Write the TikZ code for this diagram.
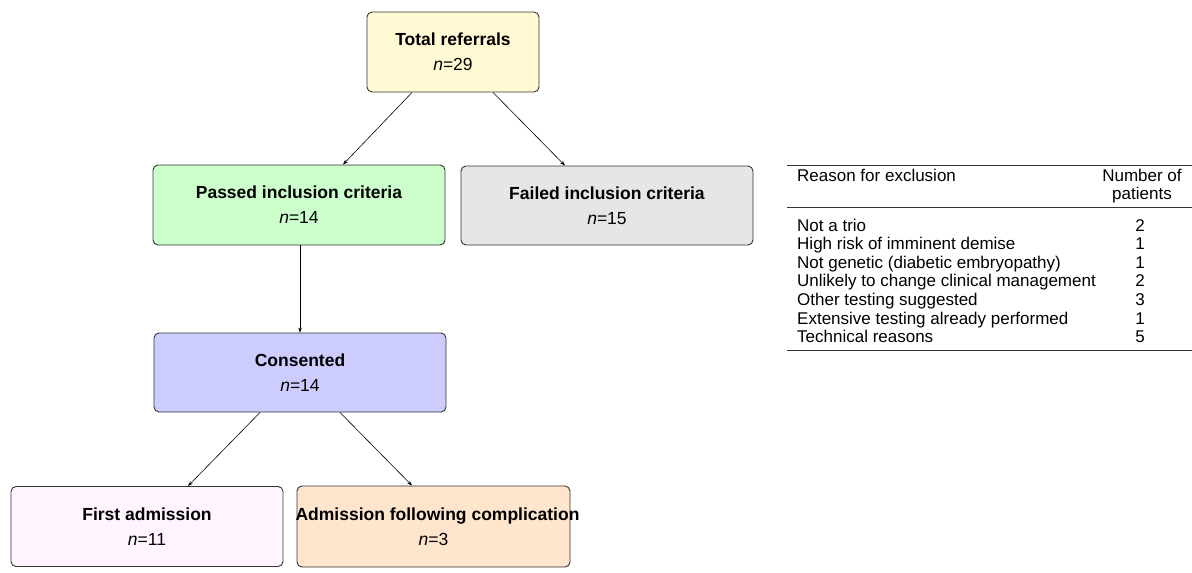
\documentclass[tikz,border=0pt]{standalone}
\usepackage{fontspec}
\setmainfont{Liberation Sans}
\usetikzlibrary{arrows.meta}
\definecolor{cTot}{HTML}{FFFAD4}
\definecolor{cPass}{HTML}{CCFFCC}
\definecolor{cFail}{HTML}{E6E6E6}
\definecolor{cCons}{HTML}{CCCCFF}
\definecolor{cFirst}{HTML}{FFF4FF}
\definecolor{cComp}{HTML}{FFE5CC}
\definecolor{cEdge}{HTML}{333333}
\tikzset{
  flowbox/.style={draw=cEdge, line width=0.9pt, rounded corners=5pt, inner sep=0pt,
    align=center, font=\fontsize{17.5}{25}\selectfont},
  arr/.style={line width=0.6pt, -{Stealth[length=5pt,width=3.5pt]}},
  tabtxt/.style={inner sep=0pt, font=\fontsize{17}{18.6}\selectfont},
  rule/.style={line width=1pt, draw=cEdge}
}
\begin{document}
\begin{tikzpicture}[x=1pt,y=-1pt]
\useasboundingbox (0,0) rectangle (1192,573);
% flow boxes
\node[flowbox, fill=cTot, minimum width=172pt, minimum height=80pt] (tot) at (453,52)
  {\textbf{Total referrals}\\\textit{n}=29};
\node[flowbox, fill=cPass, minimum width=292pt, minimum height=80pt] (pass) at (299,205)
  {\textbf{Passed inclusion criteria}\\\textit{n}=14};
\node[flowbox, fill=cFail, minimum width=292pt, minimum height=79pt] (fail) at (607,205.5)
  {\textbf{Failed inclusion criteria}\\\textit{n}=15};
\node[flowbox, fill=cCons, minimum width=292pt, minimum height=79pt] (cons) at (300,372.5)
  {\textbf{Consented}\\\textit{n}=14};
\node[flowbox, fill=cFirst, minimum width=272pt, minimum height=80pt] (first) at (147,526.5)
  {\textbf{First admission}\\\textit{n}=11};
\node[flowbox, fill=cComp, minimum width=273pt, minimum height=81pt] (comp) at (433.5,526.5)
  {\makebox[0pt][c]{\hspace{8pt}\textbf{Admission following complication}}\\\textit{n}=3};
% connectors
\draw[arr] ([xshift=-41pt]tot.south) -- ([xshift=44pt]pass.north);
\draw[arr] ([xshift=40pt]tot.south) -- ([xshift=-42pt]fail.north);
\draw[arr] ([xshift=1pt]pass.south) -- (cons.north);
\draw[arr] ([xshift=-40pt]cons.south) -- ([xshift=41pt]first.north);
\draw[arr] ([xshift=40pt]cons.south) -- ([xshift=-21.5pt]comp.north);
% table
\coordinate (tl) at (787,165);
\coordinate (tr) at (1192,165);
\coordinate (ml) at (787,207.5);
\coordinate (mr) at (1192,207.5);
\coordinate (bl) at (787,350);
\coordinate (br) at (1192,350);
\draw[rule] (tl) -- (tr);
\draw[rule] (ml) -- (mr);
\draw[rule] (bl) -- (br);
\node[tabtxt, anchor=base west] (h1) at (797,181) {Reason for exclusion};
\node[tabtxt, anchor=base] (h2) at (1142,181) {Number of};
\node[tabtxt, anchor=base] (h3) at (1142,199) {patients};
\node[tabtxt, anchor=base west] (r1) at (797,231) {Not a trio};
\node[tabtxt, anchor=base west] (r2) at (797,249.6) {High risk of imminent demise};
\node[tabtxt, anchor=base west] (r3) at (797,268.2) {Not genetic (diabetic embryopathy)};
\node[tabtxt, anchor=base west] (r4) at (797,286.8) {Unlikely to change clinical management};
\node[tabtxt, anchor=base west] (r5) at (797,305.4) {Other testing suggested};
\node[tabtxt, anchor=base west] (r6) at (797,324) {Extensive testing already performed};
\node[tabtxt, anchor=base west] (r7) at (797,342.6) {Technical reasons};
\node[tabtxt, anchor=base] (v1) at (1140,231) {2};
\node[tabtxt, anchor=base] (v2) at (1140,249.6) {1};
\node[tabtxt, anchor=base] (v3) at (1140,268.2) {1};
\node[tabtxt, anchor=base] (v4) at (1140,286.8) {2};
\node[tabtxt, anchor=base] (v5) at (1140,305.4) {3};
\node[tabtxt, anchor=base] (v6) at (1140,324) {1};
\node[tabtxt, anchor=base] (v7) at (1140,342.6) {5};
\end{tikzpicture}
\end{document}
